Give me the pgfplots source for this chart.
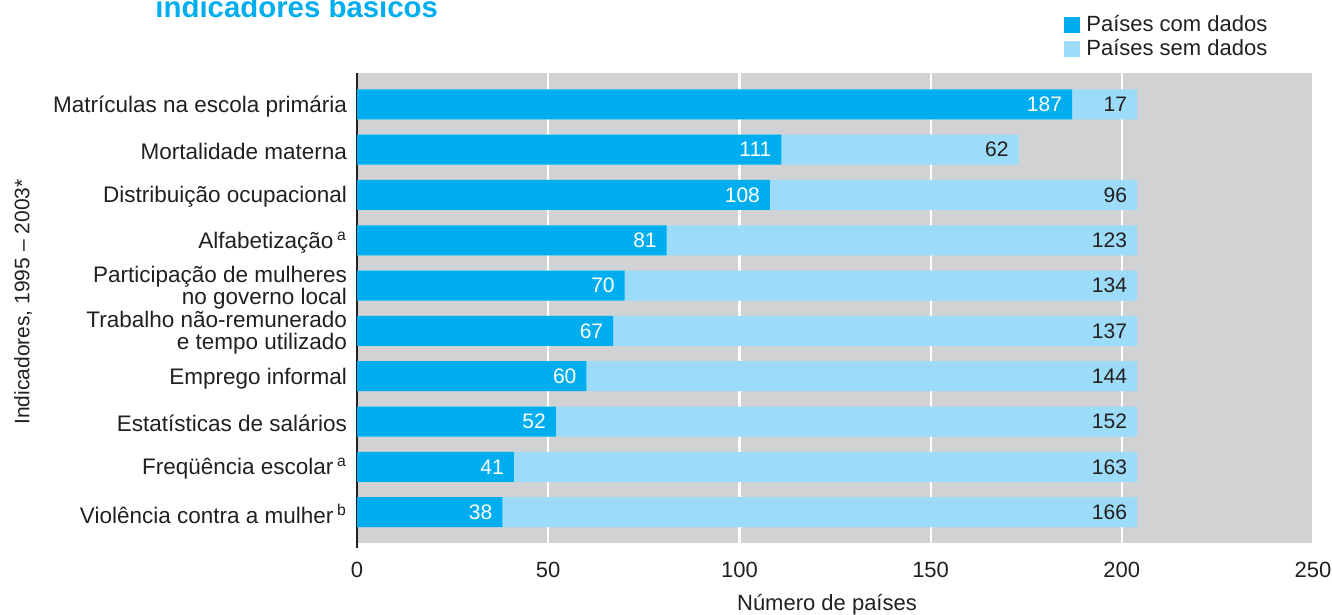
\documentclass[border=0pt]{standalone}
\usepackage{pgfplots}
\usepackage{pgfplotstable}
\pgfplotsset{compat=1.18}
\usepackage{fontspec}
\setmainfont{Liberation Sans}
\definecolor{dark}{HTML}{00AEEF}
\definecolor{light}{HTML}{9DDCF8}
\definecolor{bg}{HTML}{D1D2D4}
\definecolor{txt}{HTML}{231F20}
\pgfplotstableread{
y com sem
0 187 17
1 111 62
2 108 96
3 81 123
4 70 134
5 67 137
6 60 144
7 52 152
8 41 163
9 38 166
}\data
\begin{document}
\begin{tikzpicture}
\useasboundingbox (0,0) rectangle (666pt,307.5pt);
\begin{axis}[
  at={(178.5pt,36pt)}, anchor=south west,
  width=478pt, height=235pt, scale only axis,
  xbar, bar width=15pt, bar shift=0pt,
  xmin=0, xmax=250, ymin=-0.69, ymax=9.68, y dir=reverse,
  axis background/.style={fill=bg},
  axis lines*=left,
  x axis line style={draw=none},
  y axis line style={draw=txt, line width=0.6pt, -, shorten >=-2.5pt},
  xmajorgrids, grid style={white, line width=1.1pt},
  major tick length=0pt,
  xtick={0,50,...,250},
  ytick={0,...,9},
  yticklabels={
    Matrículas na escola primária,
    Mortalidade materna,
    Distribuição ocupacional,
    {Alfabetização\,\textsuperscript{a}},
    {Participação de mulheres\\no governo local},
    {Trabalho não-remunerado\\e tempo utilizado},
    Emprego informal,
    Estatísticas de salários,
    {Freqüência escolar\,\textsuperscript{a}},
    {Violência contra a mulher\,\textsuperscript{b}}},
  yticklabel style={align=right, font=\fontsize{11.25}{11}\selectfont, text=txt, xshift=-1.5pt, yshift=-1pt},
  xticklabel style={font=\fontsize{11}{11}\selectfont, text=txt, yshift=-6pt},
  /pgf/number format/assume math mode=true,
  xlabel={Número de países},
  xlabel style={font=\fontsize{11}{11}\selectfont, text=txt, yshift=-1.5pt, xshift=-4pt},
  legend style={at={(0.7395,1.13)}, anchor=north west, draw=none, fill=none,
    inner sep=0pt, font=\fontsize{11}{11}\selectfont, text=txt, row sep=-0.5pt,
    nodes={inner sep=1.5pt}},
  legend cell align=left,
  reverse legend,
  legend image code/.code={\fill[#1] (0pt,-4pt) rectangle (8pt,4pt); \path (9.5pt,0pt);},
]
\addplot[fill=light, draw=none, nodes near coords, point meta=explicit,
  every node near coord/.append style={text=txt, anchor=east, xshift=-1.5pt, font=\fontsize{10.5}{10.5}\selectfont}]
  table[x expr=\thisrow{com}+\thisrow{sem}, y=y, meta=sem] {\data};
\addplot[fill=dark, draw=none, nodes near coords, point meta=explicit,
  every node near coord/.append style={text=white, anchor=east, xshift=-1.5pt, font=\fontsize{10.5}{10.5}\selectfont}]
  table[x=com, y=y, meta=com] {\data};
\legend{Países sem dados, Países com dados}
\end{axis}
\node[anchor=base west, inner sep=0pt, text=dark, font=\fontsize{14.7}{14.7}\selectfont\bfseries] at (77.5pt,298.5pt) {indicadores básicos};
\node[rotate=90, inner sep=0pt, text=txt, font=\fontsize{10.5}{10.5}\selectfont] at (11.5pt,156.5pt) {Indicadores, 1995 – 2003*};
\end{tikzpicture}
\end{document}
